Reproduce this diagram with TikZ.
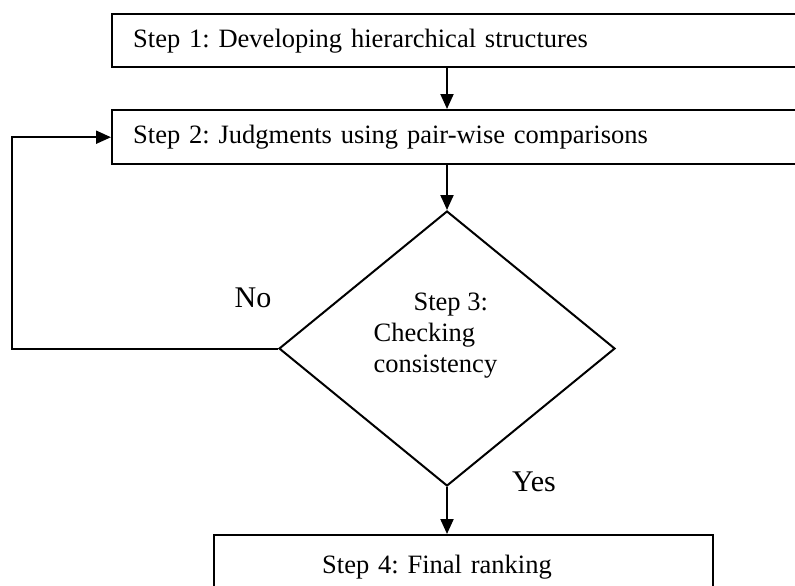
\documentclass[tikz,border=0pt]{standalone}
\usepackage{fontspec}
\setmainfont{Liberation Serif}
\usepackage{tikz}
\usetikzlibrary{shapes.geometric,arrows.meta}

\begin{document}
\frenchspacing
\begin{tikzpicture}[x=0.5pt, y=-0.5pt, semithick]
\tikzstyle{stepbox}=[draw, rectangle, line width=1.2pt, align=left, inner ysep=0pt, anchor=north west, font=\fontsize{13.25}{15.5}\selectfont]
\tikzstyle{arr}=[-{Triangle[length=7.5pt,width=6.5pt]}, line width=1pt]
\tikzstyle{answer}=[font=\fontsize{15}{17}\selectfont, inner sep=0pt]
\useasboundingbox (0,0) rectangle (795,585);
\clip (0,0) rectangle (795,585);

\node[stepbox, text width=400pt, inner xsep=10.5pt, minimum height=26.5pt]   (s1) at (111,13)  {Step 1: Developing hierarchical structures};
\node[stepbox, text width=400pt, inner xsep=10.5pt, minimum height=27pt]     (s2) at (111,109) {Step 2: Judgments using pair-wise comparisons};
\node[draw, diamond, line width=1pt, inner sep=0pt, minimum width=168pt, minimum height=137.5pt] (chk) at (447,348.5) {};
\node[anchor=north west, align=left, inner sep=0pt, font=\fontsize{13.25}{15.5}\selectfont] (chktxt) at (373,292) {\hspace*{20pt}Step 3:\\Checking\\consistency};
\node[stepbox, text width=141.5pt, inner xsep=54pt, minimum height=32pt]       (s4) at (213,534) {Step 4: Final ranking};

\node[answer] (no)  at (253,298) {No};
\node[answer] (yes) at (534,482) {Yes};

\draw[arr] (s1.south -| chk.north) -- (s2.north -| chk.north);
\draw[arr] (s2.south -| chk.north) -- (chk.north);
\draw[arr] (chk.south) -- (s4.north -| chk.south);
\draw[arr] (chk.west) -- ++(-266,0) |- (s2.west);

\end{tikzpicture}
\end{document}
